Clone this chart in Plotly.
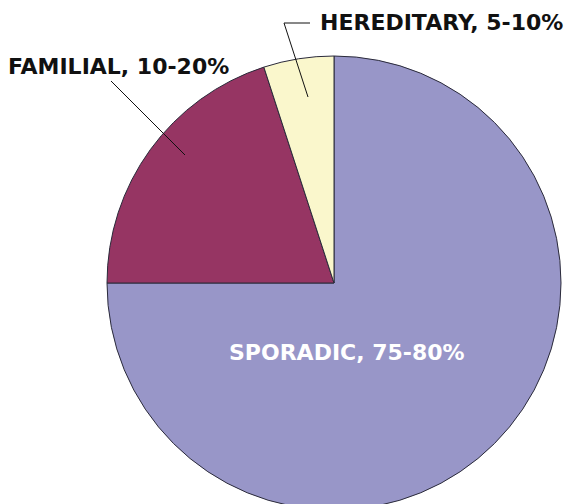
import plotly.graph_objects as go

labels = ["SPORADIC", "FAMILIAL", "HEREDITARY"]
values = [75, 20, 5]
ranges = ["75-80%", "10-20%", "5-10%"]
colors = ["#9896C8", "#963563", "#FAF7CC"]

W, H = 566, 620
cx, cy, r = 334, 283, 227  # pixel centre / radius from top-left of figure

fig = go.Figure(go.Pie(
    labels=labels, values=values, sort=False, direction="clockwise", rotation=0,
    marker=dict(colors=colors, line=dict(color="#2a2a3a", width=1)),
    textinfo="none", hoverinfo="label+percent", showlegend=False,
    domain=dict(x=[(cx - r) / W, (cx + r) / W], y=[(H - cy - r) / H, (H - cy + r) / H]),
))

def px(x):
    return x / W

def py(y):
    return 1 - y / H

font = dict(family="DejaVu Sans", size=22, color="#111111")
# Hereditary label and bent leader
fig.add_annotation(x=px(318), y=py(22), xref="paper", yref="paper", xanchor="left", yanchor="middle",
                   text=f"<b>{labels[2]}, {ranges[2]}</b>", showarrow=False, font=font)
fig.add_shape(type="path", xref="paper", yref="paper",
              path=f"M {px(310)} {py(23)} L {px(284)} {py(23)} L {px(308)} {py(97)}",
              line=dict(color="#111111", width=1))
# Familial label and leader
fig.add_annotation(x=px(6), y=py(67), xref="paper", yref="paper", xanchor="left", yanchor="middle",
                   text=f"<b>{labels[1]}, {ranges[1]}</b>", showarrow=False, font=font)
fig.add_shape(type="line", xref="paper", yref="paper",
              x0=px(111), y0=py(81), x1=px(185), y1=py(155), line=dict(color="#111111", width=1))
# Sporadic label
fig.add_annotation(x=px(347), y=py(352), xref="paper", yref="paper", xanchor="center", yanchor="middle",
                   text=f"<b>{labels[0]}, {ranges[0]}</b>", showarrow=False,
                   font=dict(family="DejaVu Sans", size=22, color="white"))

fig.update_layout(width=W, height=H, margin=dict(l=0, r=0, t=0, b=0),
                  paper_bgcolor="white", plot_bgcolor="white")
fig.write_html("out.html", config={"displayModeBar": False},
               post_script="document.body.style.margin='0';document.body.style.overflow='hidden';")
